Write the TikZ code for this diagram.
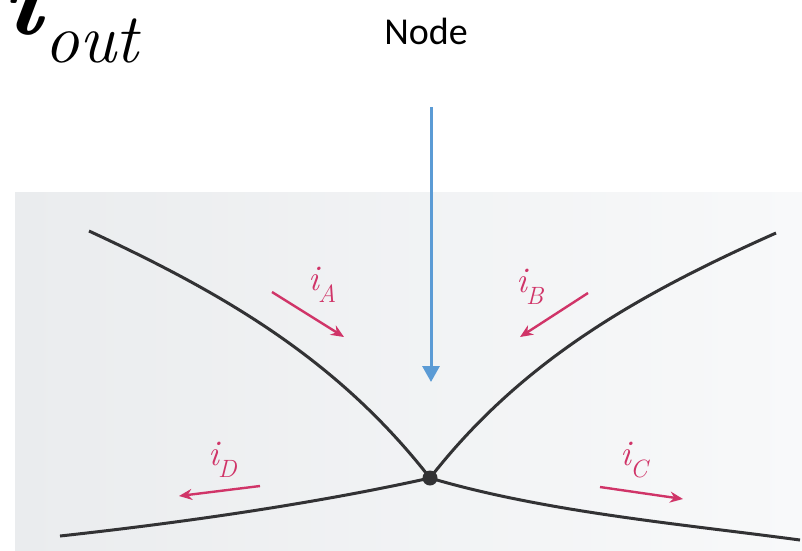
\documentclass[tikz,border=0pt]{standalone}
\usepackage{fontspec}
\newfontfamily\carlitofont{Carlito}
\usetikzlibrary{arrows.meta}
\definecolor{wirec}{RGB}{50,50,52}
\definecolor{pinkc}{RGB}{208,52,104}
\definecolor{bluec}{RGB}{91,155,213}
\definecolor{bgl}{RGB}{234,236,238}
\definecolor{bgr}{RGB}{248,249,250}
\tikzset{
  wire/.style={line width=3pt, draw=wirec},
  curarrow/.style={line width=2.4pt, draw=pinkc, -{Stealth[length=13pt,width=11pt]}},
  curlabel/.style={anchor=base west, inner sep=0pt, text=pinkc, font=\itshape\fontsize{36}{36}\selectfont},
  pointer/.style={line width=3pt, draw=bluec, -{Triangle[length=16pt,width=17pt]}},
}
\newcommand{\curlab}[1]{i\kern-1pt\raisebox{-12pt}{\fontsize{25}{25}\selectfont #1}}
\begin{document}
\begin{tikzpicture}[x=1pt,y=-1pt]
\useasboundingbox (0,0) rectangle (802,550);
% photo background
\shade[left color=bgl, right color=bgr] (15,192) rectangle (802,550);
% title texts
\node[anchor=base west, inner sep=0pt, font=\bfseries\itshape\fontsize{110}{110}\selectfont] (ibig) at (2,34) {i};
\node[anchor=base west, inner sep=0pt, font=\itshape\fontsize{70}{70}\selectfont] (out) at (44,62) {out};
\node[anchor=base, inner sep=0pt, font=\carlitofont\fontsize{38}{38}\selectfont] (nodelabel) at (426,44) {Node};
% junction
\node[circle, fill=wirec, minimum size=15pt, inner sep=0pt] (junc) at (430,478) {};
\coordinate (ul) at (89,231);
\coordinate (ur) at (776,233);
\coordinate (ll) at (60,536);
\coordinate (lr) at (800,540);
\draw[wire] (ul) .. controls (225,294) and (338,360) .. (junc.center);
\draw[wire] (junc.center) .. controls (522,360) and (639,294) .. (ur);
\draw[wire] (ll) .. controls (179,523) and (313,504) .. (junc.center);
\draw[wire] (junc.center) .. controls (545,512) and (681,524) .. (lr);
% blue pointer
\coordinate (ptop) at (431,107);
\coordinate (pbot) at (431,382);
\draw[pointer] (ptop) -- (pbot);
% current arrows
\coordinate (a1) at (272,292); \coordinate (a2) at (344,337);
\coordinate (b1) at (588,293); \coordinate (b2) at (520,337);
\coordinate (c1) at (600,487); \coordinate (c2) at (683,499);
\coordinate (d1) at (260,486); \coordinate (d2) at (179,496);
\draw[curarrow] (a1) -- (a2);
\draw[curarrow] (b1) -- (b2);
\draw[curarrow] (c1) -- (c2);
\draw[curarrow] (d1) -- (d2);
\node[curlabel] (la) at (308,290) {\curlab{A}};
\node[curlabel] (lb) at (516,292) {\curlab{B}};
\node[curlabel] (lc) at (620,465) {\curlab{C}};
\node[curlabel] (ld) at (208,465) {\curlab{D}};
\end{tikzpicture}
\end{document}
